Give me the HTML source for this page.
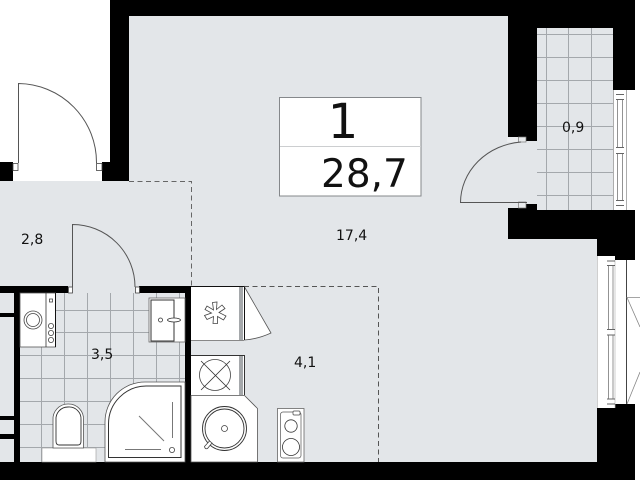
<!DOCTYPE html>
<html><head><meta charset="utf-8">
<style>html,body{margin:0;padding:0;background:#fff}svg{display:block}
text{font-family:"DejaVu Sans",sans-serif;fill:#111}</style></head>
<body>
<svg width="640" height="480" viewBox="0 0 640 480" xmlns="http://www.w3.org/2000/svg">
<rect width="640" height="480" fill="#fff"/>
<!-- floors -->
<g fill="#e3e6e9">
<rect x="129" y="16" width="468" height="446"/>
<rect x="0" y="181" width="191" height="112"/>
<rect x="20" y="293" width="165" height="169"/>
<rect x="0" y="293" width="14" height="169"/>
<rect x="537" y="28" width="76" height="182"/>
<rect x="518" y="141" width="19" height="67"/>
<rect x="191" y="286" width="60" height="176"/>
</g>
<rect x="597" y="256" width="18" height="152" fill="#fff"/>
<!-- tile grids -->
<g stroke="#a4a8ac" stroke-width="1" fill="none">
<path d="M546.5 28V210M568.5 28V210M591.5 28V210M537 34.5H613M537 57.5H613M537 80.5H613M537 103.5H613M537 126.5H613M537 149.5H613M537 172.5H613M537 195.5H613"/>
<path d="M41.5 347V462M64.5 293V462M87.5 293V462M110.5 293V462M133.5 293V462M156.5 293V462M179.5 293V462M20 310.5H185M20 332.5H185M20 355.5H185M20 378.5H185M20 401.5H185M20 424.5H185M20 447.5H185"/>
</g>
<!-- walls -->
<g fill="#000">
<rect x="110" y="0" width="525" height="16"/>
<rect x="110" y="0" width="19" height="181"/>
<rect x="102" y="162" width="27" height="19"/>
<rect x="0" y="162" width="13" height="19"/>
<rect x="508" y="16" width="29" height="121"/>
<rect x="526" y="137" width="11" height="4"/>
<rect x="537" y="16" width="98" height="12"/>
<rect x="613" y="16" width="22" height="74"/>
<rect x="508" y="208" width="29" height="31"/>
<rect x="526" y="204" width="11" height="6"/>
<rect x="537" y="210" width="98" height="29"/>
<rect x="597" y="230" width="38" height="26"/>
<rect x="615" y="230" width="20" height="30"/>
<rect x="597" y="408" width="38" height="72"/>
<rect x="615" y="404" width="20" height="8"/>
<rect x="0" y="462" width="635" height="18"/>
<rect x="0" y="286" width="68" height="7"/>
<rect x="139" y="286" width="52" height="7"/>
<rect x="14" y="293" width="6" height="169"/>
<rect x="185" y="286" width="6" height="176"/>
<rect x="0" y="313" width="14" height="4"/>
<rect x="0" y="416" width="14" height="4"/>
<rect x="0" y="434" width="14" height="5"/>
</g>
<!-- dashed -->
<path d="M129 181.5H191.5V286" fill="none" stroke="#666" stroke-width="1" stroke-dasharray="5 3.5"/>
<path d="M244 286.5H378.5V462" fill="none" stroke="#555" stroke-width="1" stroke-dasharray="5 3.5"/>
<!-- doors -->
<g fill="#fff" stroke="#444" stroke-width=".8">
<rect x="13" y="163.5" width="5" height="7"/>
<rect x="96.5" y="163.5" width="5.5" height="7"/>
<rect x="68.5" y="287" width="4" height="6"/>
<rect x="135.5" y="287" width="4" height="6"/>
</g>
<g fill="#e8eaec" stroke="#777" stroke-width=".7">
<rect x="518.5" y="137" width="7.5" height="5"/>
<rect x="518.5" y="202" width="7.5" height="6"/>
</g>
<rect x="507" y="137" width="11" height="5" fill="#eceef0"/>
<path d="M18.5 163V83.5A79 79 0 0 1 96.5 163" fill="none" stroke="#555" stroke-width="1"/>
<path d="M72.5 287V224.500A62.500 62.500 0 0 1 135 287" fill="none" stroke="#555" stroke-width="1"/>
<path d="M527 202.500H460.500A66 61 0 0 1 521 142" fill="none" stroke="#555" stroke-width="1"/>
<!-- washer -->
<rect x="20" y="293" width="35.500" height="54" fill="#fff" stroke="#555" stroke-width=".8"/>
<path d="M46 293V347" stroke="#333" stroke-width=".8"/>
<path d="M55.500 293V347" stroke="#111" stroke-width="1"/>
<g fill="#fff" stroke="#444" stroke-width=".8">
<circle cx="33" cy="320" r="9"/><circle cx="33" cy="320" r="6.500"/>
<rect x="49.500" y="299" width="3" height="3"/>
<circle cx="51" cy="326" r="2.600"/><circle cx="51" cy="333" r="2.600"/><circle cx="51" cy="340" r="2.600"/>
</g>
<!-- sink -->
<rect x="149" y="298" width="36" height="44" fill="#fff" stroke="#666" stroke-width=".8"/>
<rect x="151" y="300" width="23" height="41" fill="#fff" stroke="#333" stroke-width="1"/>
<circle cx="160.500" cy="320" r="2" fill="#fff" stroke="#333" stroke-width=".8"/>
<ellipse cx="174" cy="320" rx="6.500" ry="2" fill="#fff" stroke="#333" stroke-width=".8"/>
<!-- shower -->
<path d="M105 462V422A40 40 0 0 1 145 382H185V462Z" fill="#fff" stroke="#555" stroke-width=".8"/>
<path d="M108.500 457.500V424A38 38 0 0 1 146 386H181V457.500Z" fill="#fff" stroke="#333" stroke-width="1"/>
<path d="M172.500 402V438M139 416L164 441M125 449.500H161" stroke="#777" stroke-width="1" fill="none"/>
<circle cx="172" cy="450" r="2.600" fill="#fff" stroke="#444" stroke-width=".8"/>
<!-- toilet -->
<rect x="42" y="448" width="54" height="14" fill="#fff" stroke="#999" stroke-width=".6"/>
<path d="M53 448V420A15 15 0 0 1 68 404A15 15 0 0 1 83.500 420V448Z" fill="#fff" stroke="#555" stroke-width=".8"/>
<path d="M56 441V420A12 12 0 0 1 68 407A12 12 0 0 1 81 420V441Q81 445 78 445H59Q56 445 56 441Z" fill="#fff" stroke="#333" stroke-width=".9"/>
<!-- fridge -->
<rect x="191" y="287" width="53" height="53" fill="#fff"/>
<rect x="239" y="287" width="4" height="53" fill="#a5a8ab"/>
<path d="M191 286.500H244.500V340" fill="none" stroke="#111" stroke-width="1"/>
<path d="M191 340.500H244" stroke="#888" stroke-width="1"/>
<path d="M244.500 287L271 333Q258 339 244.500 340Z" fill="#fff" stroke="#555" stroke-width=".8"/>
<path d="M244.500 287V340" stroke="#111" stroke-width="1"/>
<path d="M212.500 302.500L217 302L216.500 309.500L222 305L225 308.500L219 312.500L226 316L223.500 320L217.500 316.500L217.500 323.500L213 323.500L213.500 316.500L207 319.500L204.500 315.500L211.500 313L205 309.500L207 306L213.500 310Z" fill="#fff" stroke="#444" stroke-width=".8"/>
<!-- hob -->
<rect x="191" y="355" width="53" height="40" fill="#fff"/>
<rect x="239" y="355" width="4" height="40" fill="#a5a8ab"/>
<path d="M191 355.500H244.500V395" fill="none" stroke="#333" stroke-width="1"/>
<circle cx="215" cy="375" r="15.500" fill="#fff" stroke="#444" stroke-width=".8"/>
<path d="M201 361L230 390M230 361L201 390" stroke="#333" stroke-width=".8"/>
<!-- kitchen sink -->
<path d="M191 395.500H244.500L257.500 408.500V462H191Z" fill="#fff" stroke="#555" stroke-width=".8"/>
<circle cx="224.500" cy="428.500" r="22" fill="#fff" stroke="#333" stroke-width=".9"/>
<circle cx="224.500" cy="428.500" r="19.500" fill="#fff" stroke="#333" stroke-width=".9"/>
<circle cx="224.500" cy="428.500" r="3" fill="#fff" stroke="#444" stroke-width=".8"/>
<path d="M204.500 446.500L209.500 441L212 443L207.500 448.500Q205 449.500 204.500 446.500Z" fill="#fff" stroke="#444" stroke-width=".8"/>
<!-- stove -->
<rect x="277.500" y="408.500" width="26.500" height="53.500" fill="#fff" stroke="#666" stroke-width=".8"/>
<rect x="280.500" y="412" width="20.500" height="46" rx="2.500" fill="#fff" stroke="#555" stroke-width=".7"/>
<circle cx="291" cy="426" r="6.200" fill="#fff" stroke="#333" stroke-width=".8"/>
<circle cx="291" cy="447" r="8.500" fill="#fff" stroke="#333" stroke-width=".8"/>
<rect x="293" y="411" width="7" height="4" rx="1" fill="#fff" stroke="#444" stroke-width=".7"/>
<!-- windows -->
<rect x="613" y="90" width="14" height="120" fill="#fff"/>
<path d="M613.500 90V210M626.500 90V210" stroke="#999" stroke-width=".8"/>
<path d="M616 94.500H624M616 99.500H624M616 147.500H624M616 153.500H624M616 200.500H624M616 205.500H624" stroke="#333" stroke-width=".8"/>
<path d="M617.500 99.500V147.500M622.500 99.500V147.500M617.500 153.500V200.500M622.500 153.500V200.500" stroke="#666" stroke-width=".7"/>
<rect x="597" y="256" width="18" height="152" fill="#fff"/>
<path d="M597.500 256V408M615 260V408" stroke="#bbb" stroke-width=".7"/>
<path d="M607 261H615M607 265.500H615M607 329.500H615M607 335H615M607 399H615M607 404H615" stroke="#333" stroke-width=".8"/>
<path d="M608.500 265.500V329.500M613 265.500V329.500M608.500 335V399M613 335V399" stroke="#666" stroke-width=".7"/>
<path d="M626.500 260V404" stroke="#444" stroke-width="1"/>
<path d="M626.500 297.500H640M627 297.500L640 327M627 404L640 372" stroke="#888" stroke-width=".8" fill="none"/>
<!-- label box -->
<rect x="279.500" y="97.500" width="141.500" height="98.500" fill="#fff" stroke="#85888b" stroke-width="1"/>
<path d="M280 146.500H421" stroke="#ccced0" stroke-width="1"/>
<text x="343" y="138" font-size="48" text-anchor="middle">1</text>
<text x="321" y="187" font-size="39">28,7</text>
<text x="21" y="244" font-size="14">2,8</text>
<text x="336" y="240" font-size="14">17,4</text>
<text x="562" y="132" font-size="14">0,9</text>
<text x="91" y="359" font-size="14">3,5</text>
<text x="294" y="367" font-size="14">4,1</text>
</svg>
</body></html>
